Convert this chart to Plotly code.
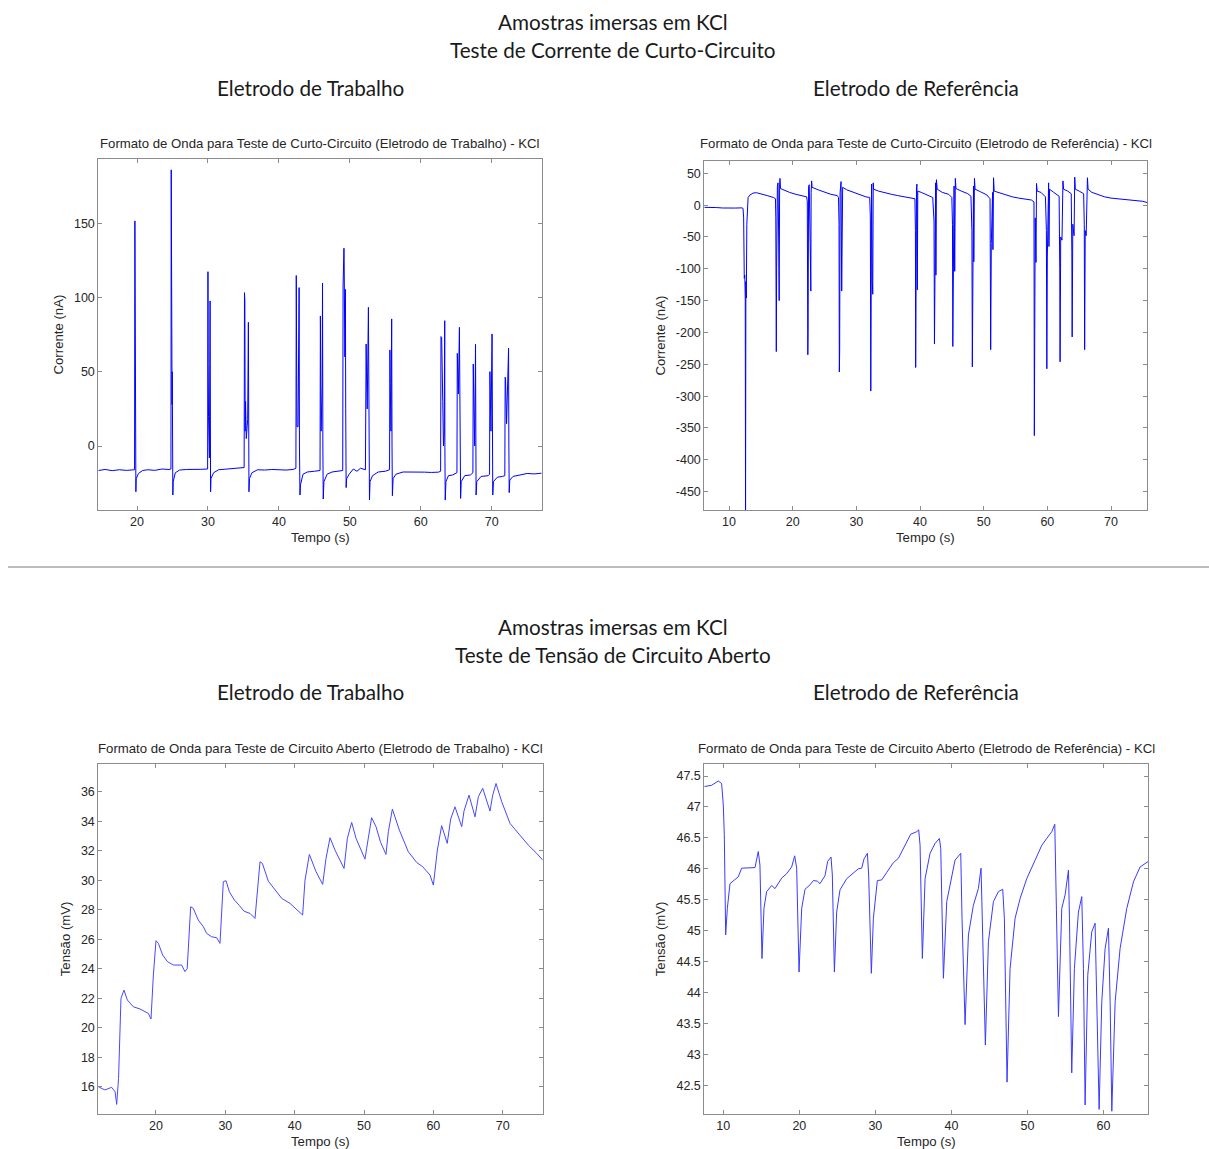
import plotly.graph_objects as go

W, H = 1209, 1149

# ---- Curto-circuito, eletrodo de trabalho (corrente, nA) ----
cc_trab_t = [14.55, 15.5, 16.5, 17.5, 18.5, 19.5, 19.65, 19.70, 19.72, 19.74, 19.76, 19.78, 19.80, 19.84, 19.88,
             20.2, 20.8, 21.5, 22.5, 23.5, 24.5, 24.78, 24.82, 24.85, 24.88, 24.90, 24.94, 24.97, 25.0, 25.05, 25.1,
             25.4, 26.0, 27.0, 28.0, 29.0, 29.95, 30.0, 30.03, 30.08, 30.2, 30.3, 30.33, 30.37, 30.42,
             30.8, 31.5, 32.5, 33.5, 34.5, 35.1, 35.15, 35.2, 35.25, 35.3, 35.4, 35.6, 35.7, 35.73, 35.78, 35.85,
             36.2, 37.0, 38.0, 39.0, 40.0, 41.0, 42.0, 42.4, 42.45, 42.5, 42.55, 42.7, 42.85, 42.9, 42.97, 43.05,
             43.4, 44.0, 45.0, 45.8, 45.85, 45.9, 45.95, 46.1, 46.15, 46.2, 46.25, 46.35,
             46.8, 47.5, 48.5, 49.0, 49.05, 49.12, 49.17, 49.2, 49.3, 49.38, 49.42, 49.48, 49.55,
             49.9, 50.5, 51.0, 51.5, 52.2, 52.3, 52.35, 52.45, 52.62, 52.66, 52.7, 52.77, 52.85,
             53.2, 54.0, 55.0, 55.6, 55.65, 55.7, 55.8, 55.9, 55.95, 56.0, 56.1,
             56.5, 57.5, 58.5, 59.5, 60.5, 61.5, 62.5, 62.8, 62.85, 62.95, 63.1, 63.2, 63.3, 63.38, 63.4, 63.45, 63.55,
             63.9, 64.5, 65.1, 65.15, 65.2, 65.3, 65.45, 65.5, 65.55, 65.62, 65.7,
             66.2, 67.0, 67.35, 67.4, 67.45, 67.6, 67.72, 67.75, 67.8, 67.9,
             68.5, 69.5, 69.7, 69.75, 69.8, 69.9, 70.05, 70.1, 70.15, 70.25,
             70.8, 71.5, 71.85, 71.9, 71.95, 72.1, 72.3, 72.38, 72.42, 72.47, 72.55,
             73.0, 74.0, 75.0, 76.0, 77.05]
cc_trab_i = [-16.5, -15.8, -16.6, -16.0, -16.4, -15.8, -16.0, 151.6, 76, 80, 65, 0, -20, -30.8, -22,
             -18.5, -16.5, -16.0, -16.4, -15.5, -15.8, -15.5, 186, 88, 55, 60, 28, 50, -20, -33, -24,
             -18, -16.2, -15.8, -16.0, -15.7, -15.5, 117.4, 55, 20, -8, 97.7, 0, -31, -22,
             -18, -16, -15.6, -15.2, -15.0, -14.5, 103.3, 98, 10, 30, 5, 18, 83.3, 5, -30.8, -22,
             -18, -16, -16.2, -15.8, -16.0, -16.2, -15.8, -15.0, 114.8, 65, 13, 13, 106.7, 0, -33, -26,
             -19, -17.5, -17, -16.5, 87.6, 20, 10, 40, 109.8, 0, -35.7, -24,
             -19, -17.5, -17, -16.5, 107.8, 130, 133.2, 125, 60, 105.5, 25, -28, -22,
             -19, -15.5, -17, -15, -16, 68.7, 50, 25, 93.4, 60, 0, -36.4, -24,
             -20, -17.5, -17, -16, 64.7, 42, 10, 85.6, 0, -33.5, -22,
             -19, -17.5, -17.4, -17.4, -17.6, -17.8, -17.6, -17, 73.7, 73, 30, 0, 8, 84.4, 0, -36.4, -24,
             -20, -19.5, -18, 62.4, 45, 35, 79.9, 16, -20, -35.3, -24,
             -20, -19.5, -18, 55.2, 36, 0, 68.5, -10, -33, -24,
             -20.5, -20, -19, 50.1, 33, 10, 75.5, 0, -33, -24,
             -21, -20.5, -20, 46.3, 45, 15, 57, 65.8, 0, -31.4, -23,
             -20.5, -19.5, -18.5, -18.8, -18.3]

# ---- Curto-circuito, eletrodo de referência (corrente, nA) ----
cc_ref_t = [6.12, 7.0, 8.0, 9.0, 10.0, 11.0, 12.0, 12.2, 12.3, 12.35, 12.4, 12.48, 12.55, 12.6, 12.65, 12.72,
            12.8, 12.9, 13.0, 13.3, 13.8, 14.3, 15.0, 16.0, 17.0, 17.3, 17.35, 17.4, 17.43, 17.48, 17.6, 17.7,
            17.8, 17.88, 17.95, 18.0, 18.1, 18.5, 19.5, 20.5, 21.5, 22.2, 22.3, 22.33, 22.38, 22.42, 22.5, 22.6,
            22.75, 22.85, 22.9, 22.98, 23.05, 24.0, 25.0, 26.0, 27.0, 27.2, 27.28, 27.33, 27.38, 27.45, 27.52,
            27.6, 27.7, 27.78, 27.85, 28.5, 29.5, 30.5, 31.5, 32.1, 32.2, 32.27, 32.32, 32.4, 32.5, 32.58, 32.65,
            32.72, 33.5, 34.5, 35.5, 36.5, 37.5, 38.5, 39.2, 39.28, 39.32, 39.37, 39.45, 39.52, 39.58, 39.65,
            40.2, 41.0, 42.0, 42.2, 42.27, 42.33, 42.45, 42.5, 42.58, 42.7, 43.5, 44.5, 45.0, 45.1, 45.15, 45.2,
            45.35, 45.45, 45.55, 45.65, 46.5, 47.5, 48.0, 48.15, 48.22, 48.3, 48.4, 48.45, 48.55, 48.65, 49.5,
            50.5, 51.0, 51.1, 51.2, 51.4, 51.45, 51.55, 51.65, 52.5, 53.5, 54.5, 55.5, 56.5, 57.5, 57.9, 57.96,
            58.02, 58.1, 58.22, 58.3, 58.4, 59.0, 59.7, 59.85, 59.92, 60.0, 60.2, 60.25, 60.35, 61.0, 61.85,
            61.95, 62.0, 62.1, 62.3, 62.45, 62.55, 63.2, 63.75, 63.85, 63.9, 64.0, 64.2, 64.3, 64.4, 65.0, 65.7,
            65.8, 65.86, 65.95, 66.1, 66.3, 66.4, 67.0, 68.0, 69.0, 70.0, 71.0, 72.0, 73.0, 74.0, 75.0, 75.7]
cc_ref_i = [-3.5, -4.2, -3.8, -4.5, -4.0, -4.6, -4.3, -5, -20, -100, -115, -110, -146, -480, -120, -146,
            -30, -10, 12, 16, 19, 19.5, 18, 15, 12, 10, -20, -169, -230, -100, 30, 35,
            -50, -150, 30, 42, 26, 24, 20, 17, 15, 13, 5, -80, -235, -200, 29, 32,
            -60, -135, 20, 38, 28, 24, 20, 17, 15, 12, -30, -262, -230, 20, 35,
            37, -135, -60, 28, 24, 20, 16, 13, 12, -20, -292, -215, 33, -120, -140, 35,
            25, 22, 19, 17, 15, 13, 11, 10, -40, -255, -150, 28, 33, -133, 22,
            20, 16, 12, -25, -218, -140, 35, -110, 40, 25, 20, 17, 12, -30, -222, -150,
            30, -104, 42, 26, 22, 18, 14, -40, -254, -70, 30, -89, 42, 25, 21,
            16, 10, -227, -60, 20, -70, 43, 22, 19, 16, 13, 11, 9, 8, 5, -362,
            -200, -20, -90, 34, 22, 20, 13, -40, -257, -80, 35, -65, 25, 20, 14,
            -100, -246, -50, -55, 38, 25, 22, 18, -75, -207, -30, -48, 44, 25, 22, 18,
            -30, -227, -40, -48, 43, 25, 20, 16, 13, 11, 10, 9, 8, 7, 6, 4]

# ---- Circuito aberto, eletrodo de trabalho (tensão, mV) ----
ca_trab_t = [11.68, 12.64, 13.6, 14.1, 14.33, 14.6, 14.95, 15.38, 15.87, 16.73, 17.7, 18.41, 18.9, 19.28, 19.62,
             20.0, 20.34, 20.96, 21.68, 22.5, 23.7, 24.18, 24.5, 25.0, 25.38, 26.1, 26.83, 27.3, 28.0, 28.75,
             29.23, 29.71, 30.1, 30.58, 31.3, 32.0, 32.7, 33.56, 34.04, 34.28, 35.0, 35.34, 36.2, 37.16, 38.13,
             39.33, 40.29, 41.15, 41.49, 42.12, 43.08, 44.04, 44.52, 45.1, 45.82, 46.54, 47.12, 47.6, 48.22,
             48.85, 49.52, 50.14, 50.38, 51.1, 51.73, 52.4, 53.17, 53.51, 54.09, 55.1, 56.39, 57.6, 58.46,
             59.52, 60.0, 60.58, 61.2, 62.0, 62.5, 63.12, 64.09, 64.42, 65.14, 66.01, 66.49, 67.12, 68.17,
             68.56, 69.04, 69.86, 71.06, 72.5, 73.7, 74.9, 75.77]
ca_trab_v = [16.0, 15.78, 15.96, 15.66, 14.8, 16.56, 21.99, 22.55, 21.88, 21.42, 21.27, 21.08, 20.97, 20.59, 23.57,
             25.9, 25.72, 24.93, 24.47, 24.25, 24.25, 23.8, 24.0, 28.2, 28.09, 27.3, 26.85, 26.4, 26.17, 26.1,
             25.72, 29.9, 29.97, 29.22, 28.66, 28.3, 27.9, 27.75, 27.53, 27.41, 31.25, 31.14, 29.94, 29.33, 28.77,
             28.43, 27.98, 27.64, 30.0, 31.75, 30.58, 29.72, 31.48, 32.88, 32.04, 31.37, 30.8, 32.84, 33.92,
             32.84, 32.05, 31.43, 32.16, 34.24, 33.63, 32.56, 31.75, 33.29, 34.82, 33.4, 31.93, 31.2, 30.92,
             30.35, 29.67, 32.05, 33.7, 32.5, 34.15, 34.98, 33.63, 34.69, 35.77, 34.3, 35.66, 36.23, 34.69,
             35.77, 36.56, 35.32, 33.85, 33.06, 32.38, 31.82, 31.37]

# ---- Circuito aberto, eletrodo de referência (tensão, mV) ----
ca_ref_t = [7.5, 8.46, 9.34, 9.78, 10.0, 10.13, 10.31, 10.53, 10.88, 11.54, 11.97, 12.41, 13.5, 14.17, 14.6,
            14.82, 15.09, 15.35, 15.7, 16.36, 16.8, 17.68, 18.33, 18.99, 19.39, 19.65, 19.96, 20.31, 20.75,
            21.4, 21.84, 22.37, 22.72, 23.38, 23.73, 24.17, 24.34, 24.61, 24.91, 25.35, 26.23, 27.1, 27.76,
            28.2, 28.51, 28.95, 29.12, 29.47, 29.74, 30.26, 30.83, 31.49, 32.37, 33.03, 34.12, 34.65, 35.44,
            35.7, 35.88, 36.18, 36.54, 37.19, 37.85, 38.42, 38.6, 38.95, 39.39, 39.91, 40.48, 41.23, 41.4,
            41.8, 42.24, 42.89, 43.55, 43.9, 44.12, 44.47, 44.87, 45.53, 46.18, 46.75, 46.97, 47.32, 47.72,
            48.38, 49.04, 49.91, 51.01, 51.89, 52.54, 53.2, 53.6, 53.77, 54.08, 54.52, 54.96, 55.4, 55.53,
            55.83, 56.18, 56.71, 57.15, 57.37, 57.59, 57.94, 58.46, 58.9, 59.12, 59.43, 59.78, 60.22, 60.66,
            60.88, 61.1, 61.54, 62.19, 63.07, 63.95, 64.82, 65.92]
ca_ref_v = [47.33, 47.35, 47.42, 47.38, 47.03, 46.55, 44.93, 45.36, 45.76, 45.83, 45.87, 46.01, 46.02, 46.02, 46.28,
            46.06, 44.55, 45.36, 45.63, 45.73, 45.68, 45.85, 45.92, 46.03, 46.21, 46.01, 44.33, 45.36, 45.67,
            45.74, 45.81, 45.8, 45.76, 45.89, 46.12, 46.19, 45.9, 44.33, 45.3, 45.66, 45.84, 45.94, 46.0,
            46.01, 46.16, 46.25, 45.9, 44.31, 45.2, 45.81, 45.82, 45.94, 46.1, 46.17, 46.44, 46.56, 46.6,
            46.63, 46.38, 44.55, 45.84, 46.25, 46.41, 46.49, 46.33, 44.23, 45.47, 45.79, 46.14, 46.25, 45.2,
            43.48, 44.93, 45.41, 45.68, 46.01, 44.71, 43.15, 44.82, 45.47, 45.63, 45.67, 45.2, 42.55, 44.39,
            45.2, 45.52, 45.84, 46.14, 46.38, 46.49, 46.6, 46.72, 45.74, 43.61, 45.36, 45.58, 45.98, 45.2,
            42.7, 44.39, 45.3, 45.55, 44.39, 42.18, 44.28, 44.98, 45.12, 43.85, 42.11, 43.85, 44.71, 45.04,
            43.85, 42.08, 43.85, 44.71, 45.36, 45.79, 46.03, 46.12]

# tick values / labels
cc_trab_yticks = [0, 50, 100, 150]
cc_ref_yticks = [50, 0, -50, -100, -150, -200, -250, -300, -350, -400, -450]
ca_trab_yticks = [16, 18, 20, 22, 24, 26, 28, 30, 32, 34, 36]
ca_ref_yticks = [42.5, 43, 43.5, 44, 44.5, 45, 45.5, 46, 46.5, 47, 47.5]
x_ticks_a = [20, 30, 40, 50, 60, 70]
x_ticks_b = [10, 20, 30, 40, 50, 60, 70]


def fx(px):
    return px / W


def fy(py):
    return 1 - py / H


def lbl(v):
    return "%g" % v


FRAME = "#8c8c8c"
TXT = "#262626"
FONT_SANS = "Liberation Sans, Arial, sans-serif"
TICKF = dict(family=FONT_SANS, size=12.5, color=TXT)
LABF = dict(family=FONT_SANS, size=13.2, color=TXT)
TITF = dict(family=FONT_SANS, size=13.2, color=TXT)
BIG = dict(family="Lato, sans-serif", size=20.7, color="#1a1a1a")

panels = [
    # (t, v, x-domain px, y-domain px, xrange, yrange, xticks, yticks, title, title y, ylabel, ylabel x, line colour)
    (cc_trab_t, cc_trab_i, (98.3, 541.7), (159, 510), [14.54, 77.05], [-43.1, 193.3], x_ticks_a, cc_trab_yticks,
     "Formato de Onda para Teste de Curto-Circuito (Eletrodo de Trabalho) - KCl", 143, "Corrente (nA)", 58,
     "#0000ff"),
    (cc_ref_t, cc_ref_i, (704.3, 1147.3), (161, 510), [6.12, 75.7], [-478.8, 69.3], x_ticks_b, cc_ref_yticks,
     "Formato de Onda para Teste de Curto-Circuito (Eletrodo de Referência) - KCl", 143, "Corrente (nA)", 660,
     "#0000ff"),
    (ca_trab_t, ca_trab_v, (98.3, 542.7), (764.3, 1114.3), [11.68, 75.77], [14.13, 37.86], x_ticks_a, ca_trab_yticks,
     "Formato de Onda para Teste de Circuito Aberto (Eletrodo de Trabalho) - KCl", 748, "Tensão (mV)", 65,
     "#4848ff"),
    (ca_ref_t, ca_ref_v, (704.3, 1148.3), (764.3, 1114.3), [7.5, 65.9], [42.03, 47.69], x_ticks_b, ca_ref_yticks,
     "Formato de Onda para Teste de Circuito Aberto (Eletrodo de Referência) - KCl", 748, "Tensão (mV)", 660,
     "#3a3aff"),
]

fig = go.Figure()
annotations = []
layout_axes = {}

for k, (t, v, xd, yd, xr, yr, xt, yt, title, ty, ylab, ylab_x, col) in enumerate(panels, start=1):
    xa = "x" if k == 1 else f"x{k}"
    ya = "y" if k == 1 else f"y{k}"
    fig.add_trace(go.Scatter(x=t, y=v, mode="lines", line=dict(color=col, width=1),
                             xaxis=xa, yaxis=ya, showlegend=False, hoverinfo="skip"))
    common = dict(showline=True, linecolor=FRAME, linewidth=1, mirror="ticks", ticks="inside",
                  ticklen=4, tickcolor=FRAME, showgrid=False, zeroline=False, tickfont=TICKF)
    layout_axes["xaxis" if k == 1 else f"xaxis{k}"] = dict(
        domain=[fx(xd[0]), fx(xd[1])], range=xr, anchor=ya,
        tickvals=xt, ticktext=[lbl(a) for a in xt], **common)
    layout_axes["yaxis" if k == 1 else f"yaxis{k}"] = dict(
        domain=[fy(yd[1]), fy(yd[0])], range=yr, anchor=xa,
        tickvals=yt, ticktext=[lbl(a) for a in yt], **common)
    cx = (xd[0] + xd[1]) / 2
    # panel title
    annotations.append(dict(text=title, x=fx(cx), y=fy(ty), xref="paper", yref="paper",
                            showarrow=False, font=TITF, xanchor="center", yanchor="middle"))
    # x-axis label
    annotations.append(dict(text="Tempo (s)", x=fx(cx), y=fy(yd[1] + 27), xref="paper", yref="paper",
                            showarrow=False, font=LABF, xanchor="center", yanchor="middle"))
    # y-axis label
    annotations.append(dict(text=ylab, x=fx(ylab_x), y=fy((yd[0] + yd[1]) / 2), xref="paper", yref="paper",
                            showarrow=False, font=LABF, textangle=-90, xanchor="center", yanchor="middle"))

# section headings
for text, px, py in [
    ("Amostras imersas em KCl", 613, 22),
    ("Teste de Corrente de Curto-Circuito", 613, 50),
    ("Eletrodo de Trabalho", 310, 88),
    ("Eletrodo de Referência", 916, 88),
    ("Amostras imersas em KCl", 613, 627),
    ("Teste de Tensão de Circuito Aberto", 613, 655),
    ("Eletrodo de Trabalho", 310, 692),
    ("Eletrodo de Referência", 916, 692),
]:
    annotations.append(dict(text=text, x=fx(px), y=fy(py), xref="paper", yref="paper",
                            showarrow=False, font=BIG, xanchor="center", yanchor="middle"))

fig.update_layout(
    width=W, height=H,
    margin=dict(l=0, r=0, t=0, b=0),
    paper_bgcolor="white", plot_bgcolor="white",
    annotations=annotations,
    shapes=[dict(type="line", xref="paper", yref="paper", x0=fx(8), x1=fx(1209), y0=fy(567), y1=fy(567),
                 line=dict(color="#a6a6a6", width=1.5))],
    **layout_axes,
)

fig.write_html("out.html", include_plotlyjs=True, config={"displayModeBar": False})
